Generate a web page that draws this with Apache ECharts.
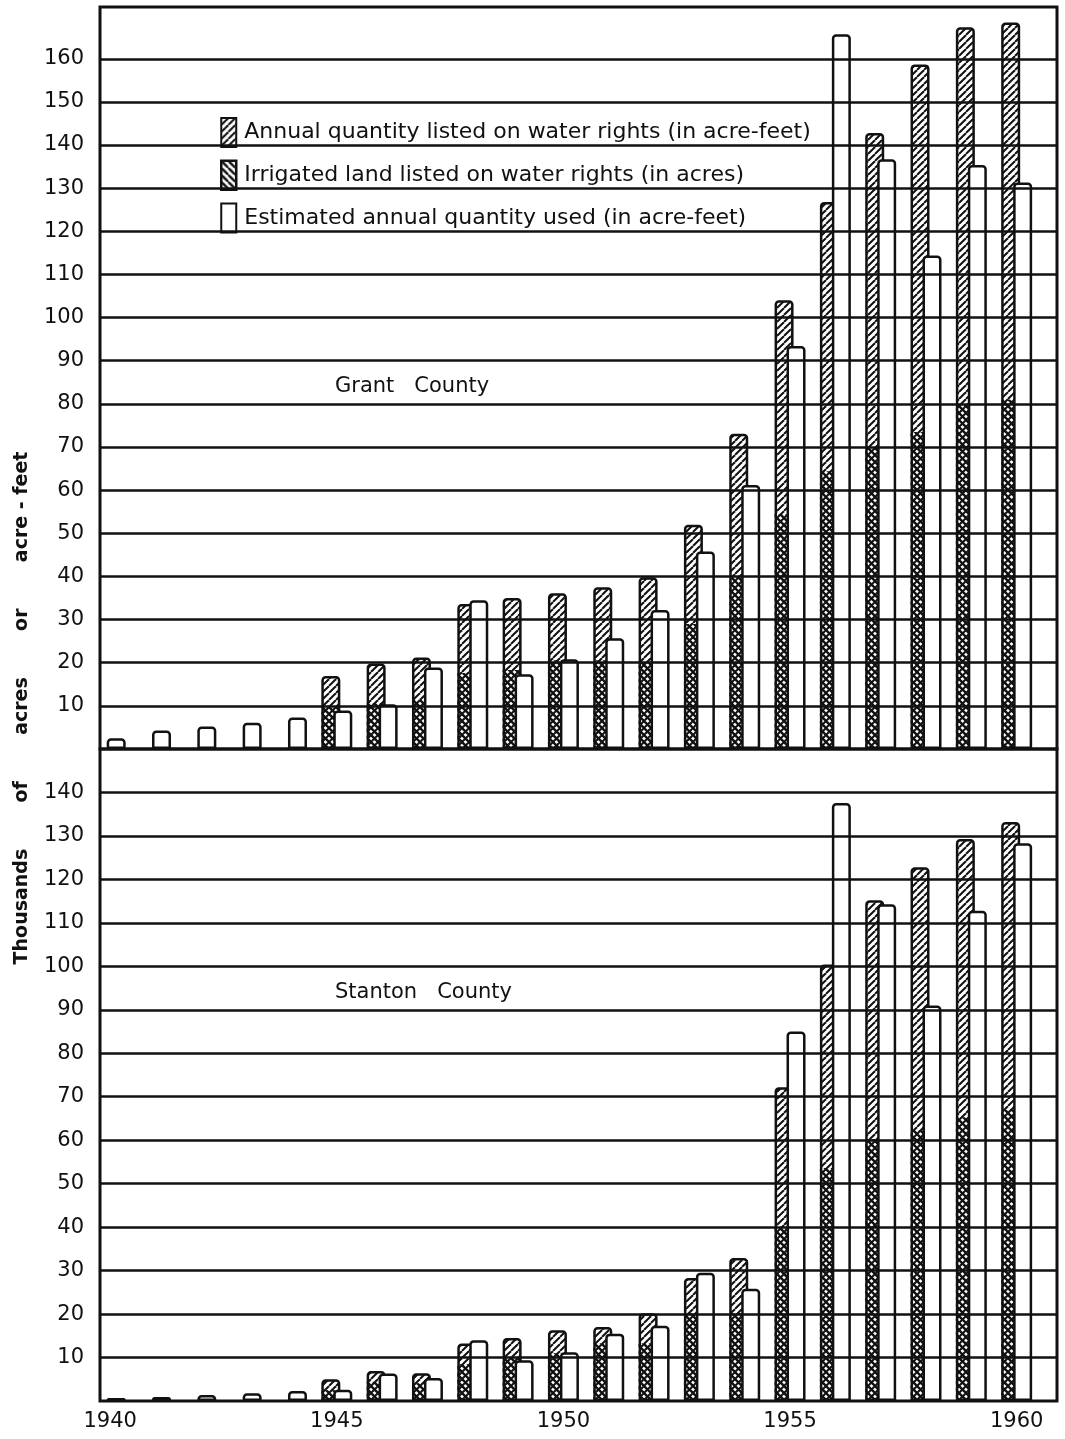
<!DOCTYPE html>
<html>
<head>
<meta charset="utf-8">
<script src="https://cdn.jsdelivr.net/npm/echarts@6/dist/echarts.min.js"></script>
<style>
  html, body { margin: 0; padding: 0; background: #fff; }
  #chart { width: 1065px; height: 1439px; }
</style>
</head>
<body>
<div id="chart"></div>
<script>
// years on the x axis
const years = [1940, 1941, 1942, 1943, 1944, 1945, 1946, 1947, 1948, 1949, 1950,
               1951, 1952, 1953, 1954, 1955, 1956, 1957, 1958, 1959, 1960];
const yearLabels = [1940, 1945, 1950, 1955, 1960];

// Grant County (thousands)
const grantListed = [null, null, null, null, null, 16.9, 19.8, 21.2, 33.6, 35.0, 36.1,
                     37.5, 39.8, 52.0, 73.1, 104.0, 126.8, 142.8, 158.7, 167.3, 168.4];
const grantIrrigated = [null, null, null, null, null, 9.8, 10.6, 11.4, 17.6, 18.3, 20.6,
                        20.6, 20.0, 29.0, 40.0, 54.5, 64.4, 70.0, 73.5, 80.0, 81.0];
const grantUsed = [2.5, 4.3, 5.2, 6.1, 7.3, 8.9, 10.4, 18.9, 34.5, 17.3, 20.8,
                   25.7, 32.2, 45.8, 61.2, 93.4, 165.7, 136.7, 114.4, 135.4, 131.3];

// Stanton County (thousands)
const stantonListed = [null, null, null, null, null, 5.0, 6.9, 6.4, 13.2, 14.5, 16.3,
                       17.0, 20.2, 28.3, 32.9, 72.2, 100.4, 115.2, 122.8, 129.3, 133.2];
const stantonIrrigated = [null, null, null, null, null, 2.5, 4.4, 4.1, 8.5, 10.0, 11.0,
                          13.3, 13.3, 20.2, 20.2, 40.0, 53.6, 60.3, 62.3, 65.3, 67.0];
const stantonUsed = [0.7, 0.9, 1.4, 1.8, 2.3, 2.6, 6.3, 5.3, 14.0, 9.4, 11.2,
                     15.5, 17.3, 29.5, 25.8, 85.0, 137.6, 114.3, 91.0, 112.8, 128.3];

// y tick labels / grid lines
const grantTicks = [10, 20, 30, 40, 50, 60, 70, 80, 90, 100, 110, 120, 130, 140, 150, 160];
const stantonTicks = [10, 20, 30, 40, 50, 60, 70, 80, 90, 100, 110, 120, 130, 140];

const N_LISTED = 'Annual quantity listed on water rights (in acre-feet)';
const N_IRR = 'Irrigated land listed on water rights (in acres)';
const N_USED = 'Estimated annual quantity used (in acre-feet)';

const INK = '#111';
const FONT = '"DejaVu Sans", sans-serif';

function hatch(dir, lw, bg) {
  const s = 7;
  const c = document.createElement('canvas');
  c.width = s; c.height = s;
  const g = c.getContext('2d');
  if (bg) { g.fillStyle = bg; g.fillRect(0, 0, s, s); }
  g.strokeStyle = INK;
  g.lineWidth = lw;
  for (let k = -1; k <= 1; k++) {
    g.beginPath();
    if (dir === '/') { g.moveTo(k * s, s); g.lineTo(k * s + s, 0); }
    else { g.moveTo(k * s, 0); g.lineTo(k * s + s, s); }
    g.stroke();
  }
  return { image: c, repeat: 'repeat' };
}
const fwdHatch = hatch('/', 2, '#fff');
const backHatch = hatch('\\', 2.4, null);

function pairs(arr) {
  const out = [];
  years.forEach((y, i) => { if (arr[i] != null) out.push([y, arr[i]]); });
  return out;
}

const BW = 19, GAP = '-37%';

function panel(gi, listed, irrigated, used, ticks) {
  return [
    { name: N_LISTED, type: 'bar', xAxisIndex: gi * 2, yAxisIndex: gi, z: 2,
      barWidth: BW, barGap: GAP, data: pairs(listed),
      itemStyle: { color: fwdHatch, borderColor: INK, borderWidth: 2.5, borderRadius: [3, 3, 0, 0] } },
    { name: N_IRR, type: 'bar', xAxisIndex: gi * 2 + 1, yAxisIndex: gi, z: 3,
      barWidth: BW, barGap: GAP, data: pairs(irrigated),
      itemStyle: { color: backHatch, borderWidth: 0 } },
    // empty bar that only holds the right-hand slot on the overlay axis
    { name: 'slot', type: 'bar', xAxisIndex: gi * 2 + 1, yAxisIndex: gi,
      barWidth: BW, barGap: GAP, data: [] },
    { name: N_USED, type: 'bar', xAxisIndex: gi * 2, yAxisIndex: gi, z: 4,
      barWidth: BW, barGap: GAP, data: pairs(used),
      itemStyle: { color: '#fff', borderColor: INK, borderWidth: 2.5, borderRadius: [3, 3, 0, 0] },
      markLine: {
        silent: true, z: 10, animation: false, symbol: ['none', 'none'],
        label: { show: false }, emphasis: { disabled: true },
        lineStyle: { color: INK, width: 2.5, type: 'solid' },
        data: ticks.map(v => ({ yAxis: v }))
      } }
  ];
}

const X_MIN = 1939.775, X_MAX = 1960.89;

function xAx(gi, showLabels) {
  return {
    type: 'value', gridIndex: gi, min: X_MIN, max: X_MAX,
    axisLine: { show: false }, axisTick: { show: false }, splitLine: { show: false },
    axisLabel: showLabels ? {
      show: true, customValues: yearLabels, formatter: v => String(v),
      fontSize: 21, color: INK, fontFamily: FONT, margin: 10
    } : { show: false }
  };
}

function yAx(gi, max, ticks) {
  return {
    type: 'value', gridIndex: gi, min: 0, max: max, interval: 10,
    axisLine: { show: false }, axisTick: { show: false }, splitLine: { show: false },
    axisLabel: { customValues: ticks, fontSize: 21, color: INK, fontFamily: FONT, margin: 16 }
  };
}

const chart = echarts.init(document.getElementById('chart'), null, { renderer: 'canvas' });
chart.setOption({
  animation: false,
  backgroundColor: '#fff',
  title: [
    { text: 'Grant   County', left: 330, top: 371,
      textStyle: { fontSize: 21, fontWeight: 'normal', color: INK, fontFamily: FONT } },
    { text: 'Stanton   County', left: 330, top: 977,
      textStyle: { fontSize: 21, fontWeight: 'normal', color: INK, fontFamily: FONT } }
  ],
  legend: {
    orient: 'vertical', left: 215, top: 112, itemWidth: 15, itemHeight: 29, itemGap: 11.5,
    selectedMode: false, icon: 'rect',
    textStyle: { fontSize: 22, color: INK, fontFamily: FONT, padding: [0, 0, 0, 3] },
    data: [
      { name: N_LISTED },
      { name: N_IRR, itemStyle: { borderColor: INK, borderWidth: 2.5 } },
      { name: N_USED }
    ]
  },
  grid: [
    { left: 100, top: 7, width: 957, height: 742, show: true, borderColor: INK, borderWidth: 3 },
    { left: 100, top: 749, width: 957, height: 652, show: true, borderColor: INK, borderWidth: 3 }
  ],
  xAxis: [xAx(0, false), xAx(0, false), xAx(1, true), xAx(1, false)],
  yAxis: [yAx(0, 172, grantTicks), yAx(1, 150, stantonTicks)],
  graphic: [{
    type: 'text', x: 22, y: 708, rotation: Math.PI / 2,
    style: {
      text: 'Thousands       of       acres       or       acre - feet',
      font: 'bold 19px "DejaVu Sans", sans-serif', fill: INK,
      align: 'center', verticalAlign: 'middle'
    }
  }],
  series: [
    ...panel(0, grantListed, grantIrrigated, grantUsed, grantTicks),
    ...panel(1, stantonListed, stantonIrrigated, stantonUsed, stantonTicks)
  ]
});
</script>
</body>
</html>
